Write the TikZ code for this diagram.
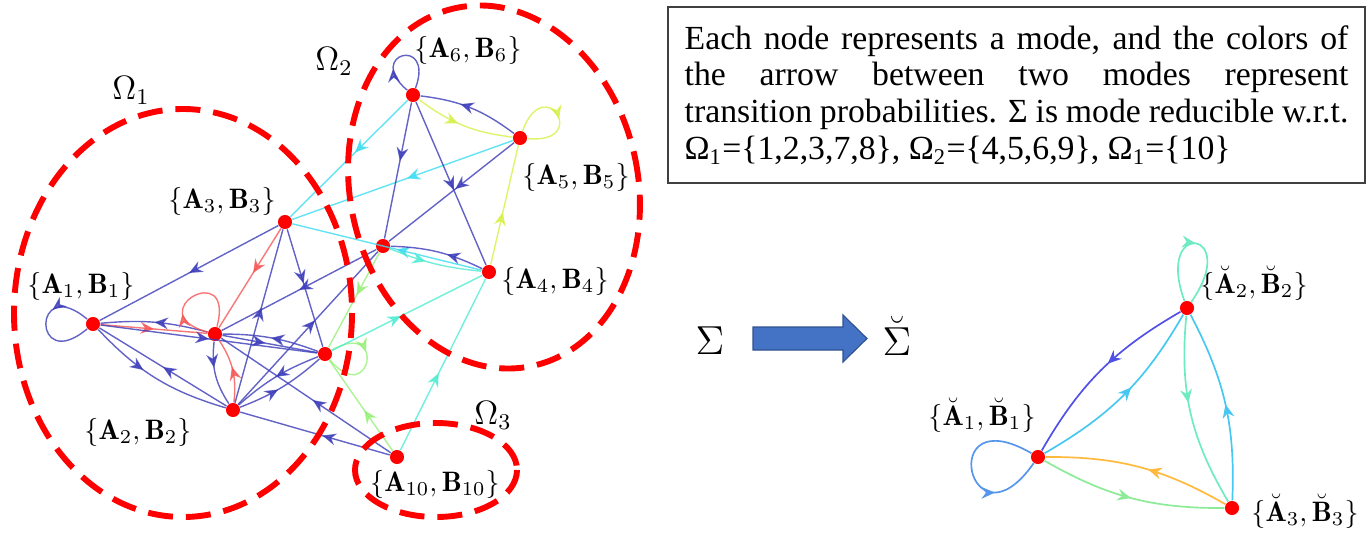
\documentclass[tikz,border=0pt]{standalone}
\usepackage{amsmath}
\usepackage{fontspec}
\newfontfamily\timesfont{Liberation Serif}
\usetikzlibrary{arrows.meta,decorations.markings}

\definecolor{cblue}{RGB}{60,60,185}
\definecolor{cred}{RGB}{245,85,85}
\definecolor{ccyan}{RGB}{60,220,240}
\definecolor{caqua}{RGB}{80,235,210}
\definecolor{cgreen}{RGB}{150,240,120}
\definecolor{cyellow}{RGB}{215,240,70}
\definecolor{rblue}{RGB}{80,80,230}
\definecolor{rsky}{RGB}{70,200,240}
\definecolor{raqua}{RGB}{110,235,195}
\definecolor{rorange}{RGB}{255,185,60}
\definecolor{rgreen}{RGB}{140,235,150}
\definecolor{rloop}{RGB}{85,150,235}
\definecolor{bigarrow}{RGB}{68,114,196}
\definecolor{bigarrowedge}{RGB}{47,82,143}

\begin{document}
\begin{tikzpicture}[x=0.0125cm, y=-0.0125cm,
    mode/.style={circle, fill=red, inner sep=0pt, minimum size=5pt},
    modelabel/.style={inner sep=0pt},
    region/.style={draw=red, line width=2.1pt, dash pattern=on 8.9pt off 4.6pt},
    tr/.style={line width=0.5pt, opacity=0.8},
    arr/.style={postaction={decorate, decoration={markings,
        mark=at position #1 with {\arrow{Stealth[length=4.8pt, width=4.2pt, inset=1.6pt]}}}}},
    arr/.default=0.5]
    \useasboundingbox (0,0) rectangle (1369,534);

    % original system
    \node[mode] (n1) at (93,324) {};
    \node[mode] (n2) at (233,410) {};
    \node[mode] (n3) at (285,222) {};
    \node[mode] (n4) at (489,272) {};
    \node[mode] (n5) at (520,138) {};
    \node[mode] (n6) at (413,95) {};
    \node[mode] (n7) at (215,334) {};
    \node[mode] (n8) at (325,354) {};
    \node[mode] (n9) at (383,246) {};
    \node[mode] (n10) at (397,457) {};

    \draw[tr, cblue, arr=0.35] (n1) to[out=140, in=220, looseness=8, min distance=9mm] (n1);
    \draw[tr, cblue, arr] (n3) -- (n1);
    \draw[tr, cred, arr] (n1) -- (n7);
    \draw[tr, cblue, arr] (n7) to[bend right=10] (n1);
    \draw[tr, cblue, arr] (n1) -- (n8);
    \draw[tr, cblue, arr=0.4] (n1) to[bend right=15] (n2);
    \draw[tr, cblue, arr] (n2) -- (n1);
    \draw[tr, cblue, arr=0.4] (n7) to[bend right=20] (n2);
    \draw[tr, cred, arr=0.55] (n2) to[bend right=20] (n7);
    \draw[tr, cred, arr=0.3] (n7) to[out=165, in=75, looseness=8, min distance=9mm] (n7);
    \draw[tr, cred, arr=0.45] (n3) -- (n7);
    \draw[tr, cblue, arr=0.55] (n2) -- (n3);
    \draw[tr, cblue, arr=0.46] (n3) -- (n8);
    \draw[tr, cblue, arr] (n9) -- (n7);
    \draw[tr, cblue, arr] (n8) to[bend right=10] (n7);
    \draw[tr, cblue, arr=0.45] (n7) -- (n8);
    \draw[tr, cblue, arr=0.55] (n2) -- (n9);
    \draw[tr, cblue, arr] (n8) to[bend right=10] (n2);
    \draw[tr, cblue, arr=0.45] (n2) to[bend right=10] (n8);
    \draw[tr, cblue, arr=0.45] (n10) -- (n2);
    \draw[tr, cblue, arr=0.46] (n10) -- (n7);
    \draw[tr, cgreen, arr=0.4] (n8) to[out=30, in=-50, looseness=8, min distance=8mm] (n8);
    \draw[tr, cgreen, arr=0.45] (n9) -- (n8);
    \draw[tr, cgreen, arr=0.45] (n10) -- (n8);
    \draw[tr, caqua, arr=0.46] (n8) -- (n4);
    \draw[tr, caqua, arr=0.45] (n10) -- (n4);
    \draw[tr, ccyan, arr=0.45] (n4) -- (n3);
    \draw[tr, caqua, arr=0.4] (n9) to[bend right=8] (n4);
    \draw[tr, cblue, arr=0.4] (n4) to[bend right=12] (n9);
    \draw[tr, ccyan, arr=0.45] (n6) -- (n3);
    \draw[tr, ccyan, arr=0.48] (n5) -- (n3);
    \draw[tr, cblue, arr=0.43] (n6) -- (n9);
    \draw[tr, cblue, arr=0.54] (n6) -- (n4);
    \draw[tr, cblue, arr=0.47] (n5) -- (n9);
    \draw[tr, cyellow, arr=0.45] (n6) to[bend right=15] (n5);
    \draw[tr, cblue, arr=0.6] (n5) to[bend right=15] (n6);
    \draw[tr, cblue, arr=0.3] (n6) to[out=140, in=70, looseness=8, min distance=7mm] (n6);
    \draw[tr, cyellow, arr=0.55] (n5) to[out=70, in=-5, looseness=8, min distance=8mm] (n5);
    \draw[tr, cyellow, arr=0.44] (n4) -- (n5);

    \node[modelabel] (l1) at (81,286) {$\{\mathbf{A}_1,\mathbf{B}_1\}$};
    \node[modelabel] (l2) at (138,432) {$\{\mathbf{A}_2,\mathbf{B}_2\}$};
    \node[modelabel] (l3) at (222,201) {$\{\mathbf{A}_3,\mathbf{B}_3\}$};
    \node[modelabel] (l4) at (555,281) {$\{\mathbf{A}_4,\mathbf{B}_4\}$};
    \node[modelabel] (l5) at (576,177) {$\{\mathbf{A}_5,\mathbf{B}_5\}$};
    \node[modelabel] (l6) at (468,50) {$\{\mathbf{A}_6,\mathbf{B}_6\}$};
    \node[modelabel] (l10) at (435,484) {$\{\mathbf{A}_{10},\mathbf{B}_{10}\}$};

    % subsets
    \draw[region] (183,313) ellipse [x radius=169, y radius=204];
    \draw[region, shift={(494,187)}, rotate=12] (0,0) ellipse [x radius=144, y radius=183];
    \draw[region] (436,470) ellipse [x radius=81, y radius=47];
    \node[font=\large] (om1) at (131,90) {$\Omega_1$};
    \node[font=\large] (om2) at (334,61) {$\Omega_2$};
    \node[font=\large] (om3) at (493,415) {$\Omega_3$};

    % note
    \node[draw=black!75, line width=0.7pt, text width=236pt, inner xsep=6pt,
          minimum height=62.6pt, align=justify,
          font=\timesfont\fontsize{12}{13.1}\selectfont] (note) at (1016.5,95)
        {Each node represents a mode, and the colors of\linebreak
         the arrow between two modes represent\linebreak
         transition probabilities. Σ is mode reducible w.r.t.\linebreak
         Ω\textsubscript{1}=\{1,2,3,7,8\}, Ω\textsubscript{2}=\{4,5,6,9\}, Ω\textsubscript{1}=\{10\}};

    % reduction
    \node[font=\Large] (sig) at (710,341) {$\Sigma$};
    \node[font=\Large] (rsig) at (897,336) {$\breve{\Sigma}$};
    \fill[bigarrow, draw=bigarrowedge, line width=0.4pt]
        (753,327) -- (843,327) -- (843,315) -- (867,338.5) -- (843,362) -- (843,350) -- (753,350) -- cycle;

    % reduced system
    \node[mode] (m1) at (1038,457) {};
    \node[mode] (m2) at (1187,308) {};
    \node[mode] (m3) at (1232,508) {};

    \draw[line width=0.6pt, rblue, arr=0.45] (m2) to[bend right=15] (m1);
    \draw[line width=0.6pt, rsky, arr=0.55] (m1) to[bend right=15] (m2);
    \draw[line width=0.6pt, raqua, arr=0.45] (m2) to[bend right=18] (m3);
    \draw[line width=0.6pt, rsky, arr=0.5] (m3) to[bend right=15] (m2);
    \draw[line width=0.6pt, rorange, arr=0.45] (m3) to[bend right=15] (m1);
    \draw[line width=0.6pt, rgreen, arr=0.5] (m1) to[bend right=15] (m3);
    \draw[line width=0.6pt, rloop, arr=0.7] (m1) to[out=150, in=235, looseness=8, min distance=14mm] (m1);
    \draw[line width=0.6pt, raqua, arr=0.5] (m2) to[out=110, in=55, looseness=8, min distance=11mm] (m2);

    \node[modelabel] (r1) at (982,415) {$\{\breve{\mathbf{A}}_1,\breve{\mathbf{B}}_1\}$};
    \node[modelabel] (r2) at (1254,283) {$\{\breve{\mathbf{A}}_2,\breve{\mathbf{B}}_2\}$};
    \node[modelabel] (r3) at (1305,511) {$\{\breve{\mathbf{A}}_3,\breve{\mathbf{B}}_3\}$};
\end{tikzpicture}
\end{document}
